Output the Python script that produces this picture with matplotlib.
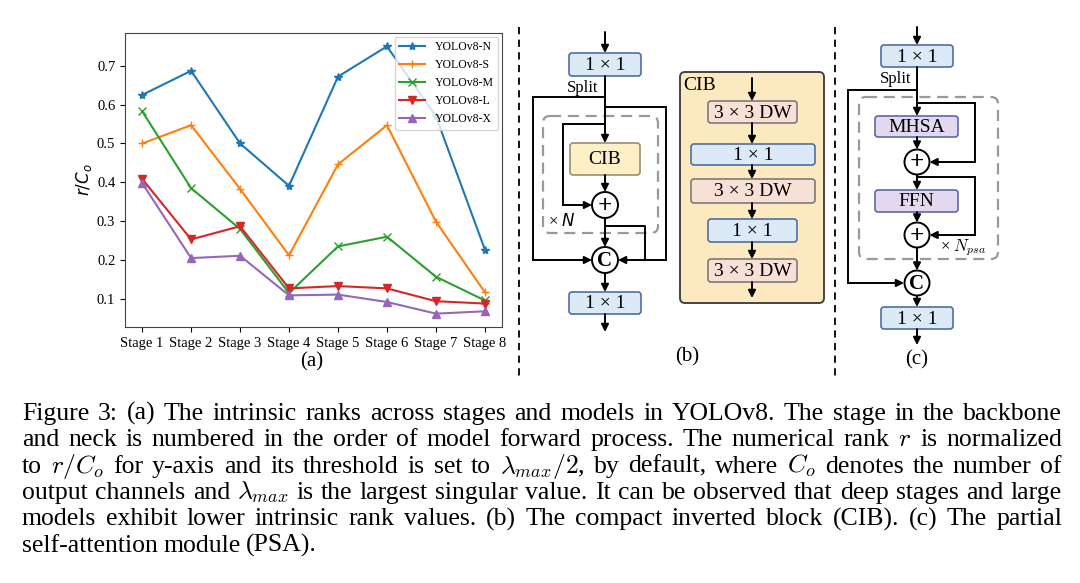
import numpy as np
import matplotlib
matplotlib.use("Agg")
import matplotlib.pyplot as plt
from matplotlib.patches import FancyBboxPatch, FancyArrowPatch, Circle

# %% data
stages = ["Stage 1", "Stage 2", "Stage 3", "Stage 4", "Stage 5", "Stage 6", "Stage 7", "Stage 8"]
models = ["YOLOv8-N", "YOLOv8-S", "YOLOv8-M", "YOLOv8-L", "YOLOv8-X"]
rank_n = [0.625, 0.687, 0.500, 0.391, 0.672, 0.750, 0.570, 0.227]
rank_s = [0.500, 0.547, 0.383, 0.212, 0.446, 0.547, 0.299, 0.117]
rank_m = [0.583, 0.385, 0.280, 0.115, 0.235, 0.260, 0.157, 0.096]
rank_l = [0.409, 0.253, 0.287, 0.127, 0.133, 0.127, 0.094, 0.088]
rank_x = [0.398, 0.205, 0.211, 0.109, 0.111, 0.092, 0.062, 0.068]
markers = ["*", "+", "x", "v", "^"]

caption = [
    "Figure 3: (a) The intrinsic ranks across stages and models in YOLOv8. The stage in the backbone",
    "and neck is numbered in the order of model forward process. The numerical rank $r$ is normalized",
    "to $r/C_o$ for y-axis and its threshold is set to $\\lambda_{max}/2$, by default, where $C_o$ denotes the number of",
    "output channels and $\\lambda_{max}$ is the largest singular value. It can be observed that deep stages and large",
    "models exhibit lower intrinsic rank values. (b) The compact inverted block (CIB). (c) The partial",
    "self-attention module (PSA).",
]

plt.rcParams['font.family'] = ['Liberation Serif', 'DejaVu Sans']
SERIF = ['Liberation Serif', 'DejaVu Sans']

fig = plt.figure(figsize=(10.8, 5.83), dpi=100)

# %% (a) line chart
ax = fig.add_axes([125/1080, 1-327/583, 377/1080, 294/583])
x = np.arange(len(stages))
for vals, name, mk in zip([rank_n, rank_s, rank_m, rank_l, rank_x], models, markers):
    ax.plot(x, vals, marker=mk, markersize=6, lw=1.5, label=name)
ax.set_xticks(x)
ax.set_xticklabels(stages, fontsize=10.5)
ax.set_yticks([0.1, 0.2, 0.3, 0.4, 0.5, 0.6, 0.7])
ax.tick_params(axis='y', labelsize=10.5)
ax.set_ylabel("$r/C_o$", fontsize=12, labelpad=2)
ax.legend(loc='upper right', fontsize=8.5, handlelength=2.2, borderaxespad=0.3)
for s in ax.spines.values():
    s.set_color('#444444')

# %% diagrams on an overlay in pixel units
d = fig.add_axes([0, 0, 1, 1], zorder=-1)
d.set_xlim(0, 1080)
d.set_ylim(583, 0)
d.axis('off')

BLUE = ('#dce9f7', '#4d6fa3')
YEL = ('#fdefc6', '#9a8f6e')
PINK = ('#f9e0d6', '#7a7a7a')
PURP = ('#e4d7f0', '#5a6aa6')


def box(x0, y0, x1, y1, col, label, fs=14):
    d.add_patch(FancyBboxPatch((x0, y0), x1-x0, y1-y0, boxstyle='round,pad=0,rounding_size=3',
                               fc=col[0], ec=col[1], lw=1.2))
    d.text((x0+x1)/2, (y0+y1)/2 + 1, label, ha='center', va='center', fontsize=fs, family=SERIF)


def arrow(p0, p1):
    d.add_patch(FancyArrowPatch(p0, p1, arrowstyle='-|>', mutation_scale=11, lw=1.4,
                                color='k', shrinkA=0, shrinkB=0))


def path(pts):
    xs, ys = zip(*pts[:-1])
    d.plot(xs, ys, color='k', lw=1.4, solid_joinstyle='miter')
    arrow(pts[-2], pts[-1])


def node(cx, cy, r, label, fs):
    d.add_patch(Circle((cx, cy), r, fc='white', ec='k', lw=1.4, zorder=3))
    d.text(cx, cy + 1, label, ha='center', va='center', fontsize=fs, fontweight='bold',
           family=SERIF, zorder=4)


def dashed(x0, y0, x1, y1):
    d.add_patch(FancyBboxPatch((x0, y0), x1-x0, y1-y0, boxstyle='round,pad=0,rounding_size=7',
                               fc='none', ec='#999999', lw=1.6, ls=(0, (5, 3))))


# separators
d.plot([519, 519], [27, 378], color='k', lw=1.3, ls=(0, (4, 3)))
d.plot([835, 835], [27, 378], color='k', lw=1.3, ls=(0, (4, 3)))

# (b) C2f with CIB
bx = 605
arrow((bx, 32), (bx, 53))
box(569, 53, 641, 76, BLUE, "1 × 1")
d.text(583, 88, "Split", ha='center', va='center', fontsize=12, family=SERIF)
dashed(543, 116, 658, 233)
path([(bx, 97), (533, 97), (533, 260), (bx - 13, 260)])
path([(bx, 107), (666, 107), (666, 260), (bx + 13, 260)])
path([(bx, 124), (563, 124), (563, 205), (bx - 13, 205)])
arrow((bx, 76), (bx, 143))
box(570, 143, 640, 175, YEL, "CIB")
arrow((bx, 175), (bx, 192))
node(bx, 205, 13, "+", 18)
d.plot([bx, bx, 645, 645], [218, 226, 226, 260], color='k', lw=1.4)
arrow((bx, 218), (bx, 247))
node(bx, 260, 13, "C", 15)
arrow((bx, 273), (bx, 292))
box(569, 292, 641, 314, BLUE, "1 × 1")
arrow((bx, 314), (bx, 332))
d.text(548, 222, "× $N$", ha='left', va='center', fontsize=12, family=SERIF, math_fontfamily='dejavusans')
d.text(687, 357, "(b)", ha='center', va='center', fontsize=15, family=SERIF)

# CIB panel
d.add_patch(FancyBboxPatch((680, 72), 144, 231, boxstyle='round,pad=0,rounding_size=5',
                           fc='#fce9bf', ec='#444444', lw=1.4))
d.text(683, 86, "CIB", ha='left', va='center', fontsize=14, family=SERIF)
cx = 752
arrow((cx, 78), (cx, 101))
box(708, 101, 797, 123, PINK, "3 × 3 DW")
arrow((cx, 123), (cx, 144))
box(691, 144, 815, 165, BLUE, "1 × 1")
arrow((cx, 165), (cx, 179))
box(691, 179, 815, 203, PINK, "3 × 3 DW")
arrow((cx, 203), (cx, 219))
box(708, 219, 797, 242, BLUE, "1 × 1")
arrow((cx, 242), (cx, 259))
box(708, 259, 797, 282, PINK, "3 × 3 DW")
arrow((cx, 282), (cx, 298))

# (c) PSA
px = 917
arrow((px, 27), (px, 45))
box(881, 45, 953, 67, BLUE, "1 × 1")
d.text(896, 79, "Split", ha='center', va='center', fontsize=12, family=SERIF)
dashed(859, 97, 998, 259)
path([(px, 90), (848, 90), (848, 283), (px - 13, 283)])
path([(px, 103), (975, 103), (975, 162), (px + 12.5, 162)])
arrow((px, 67), (px, 116))
box(875, 116, 958, 137, PURP, "MHSA")
arrow((px, 137), (px, 149.5))
node(px, 162, 12.5, "+", 18)
path([(px, 177), (975, 177), (975, 235), (px + 12.5, 235)])
arrow((px, 174.5), (px, 190))
box(875, 190, 958, 212, PURP, "FFN")
arrow((px, 212), (px, 222.5))
node(px, 235, 12.5, "+", 18)
arrow((px, 247.5), (px, 270.5))
node(px, 283, 12.5, "C", 15)
arrow((px, 295.5), (px, 307))
box(881, 307, 953, 329, BLUE, "1 × 1")
arrow((px, 329), (px, 345))
d.text(940, 248, "× $N_{psa}$", ha='left', va='center', fontsize=12, family=SERIF, math_fontfamily='cm')
d.text(px, 360, "(c)", ha='center', va='center', fontsize=15, family=SERIF)
d.text(312, 362, "(a)", ha='center', va='center', fontsize=15, family=SERIF)

# %% caption, justified word by word
renderer = fig.canvas.get_renderer()
x_left, x_right = 22, 1062
base0, step = 420, 26.3
for i, line in enumerate(caption):
    words = line.split(' ')
    ts = [d.text(0, 0, w, fontsize=18.5, family=SERIF, math_fontfamily='cm', va='baseline')
          for w in words]
    widths = [t.get_window_extent(renderer).width for t in ts]
    if i < len(caption) - 1:
        gap = (x_right - x_left - sum(widths)) / (len(words) - 1)
    else:
        gap = 5.5
    xx = x_left
    for t, w in zip(ts, widths):
        t.set_position((xx, base0 + i * step))
        xx += w + gap

fig.savefig("out.png", dpi=100)
